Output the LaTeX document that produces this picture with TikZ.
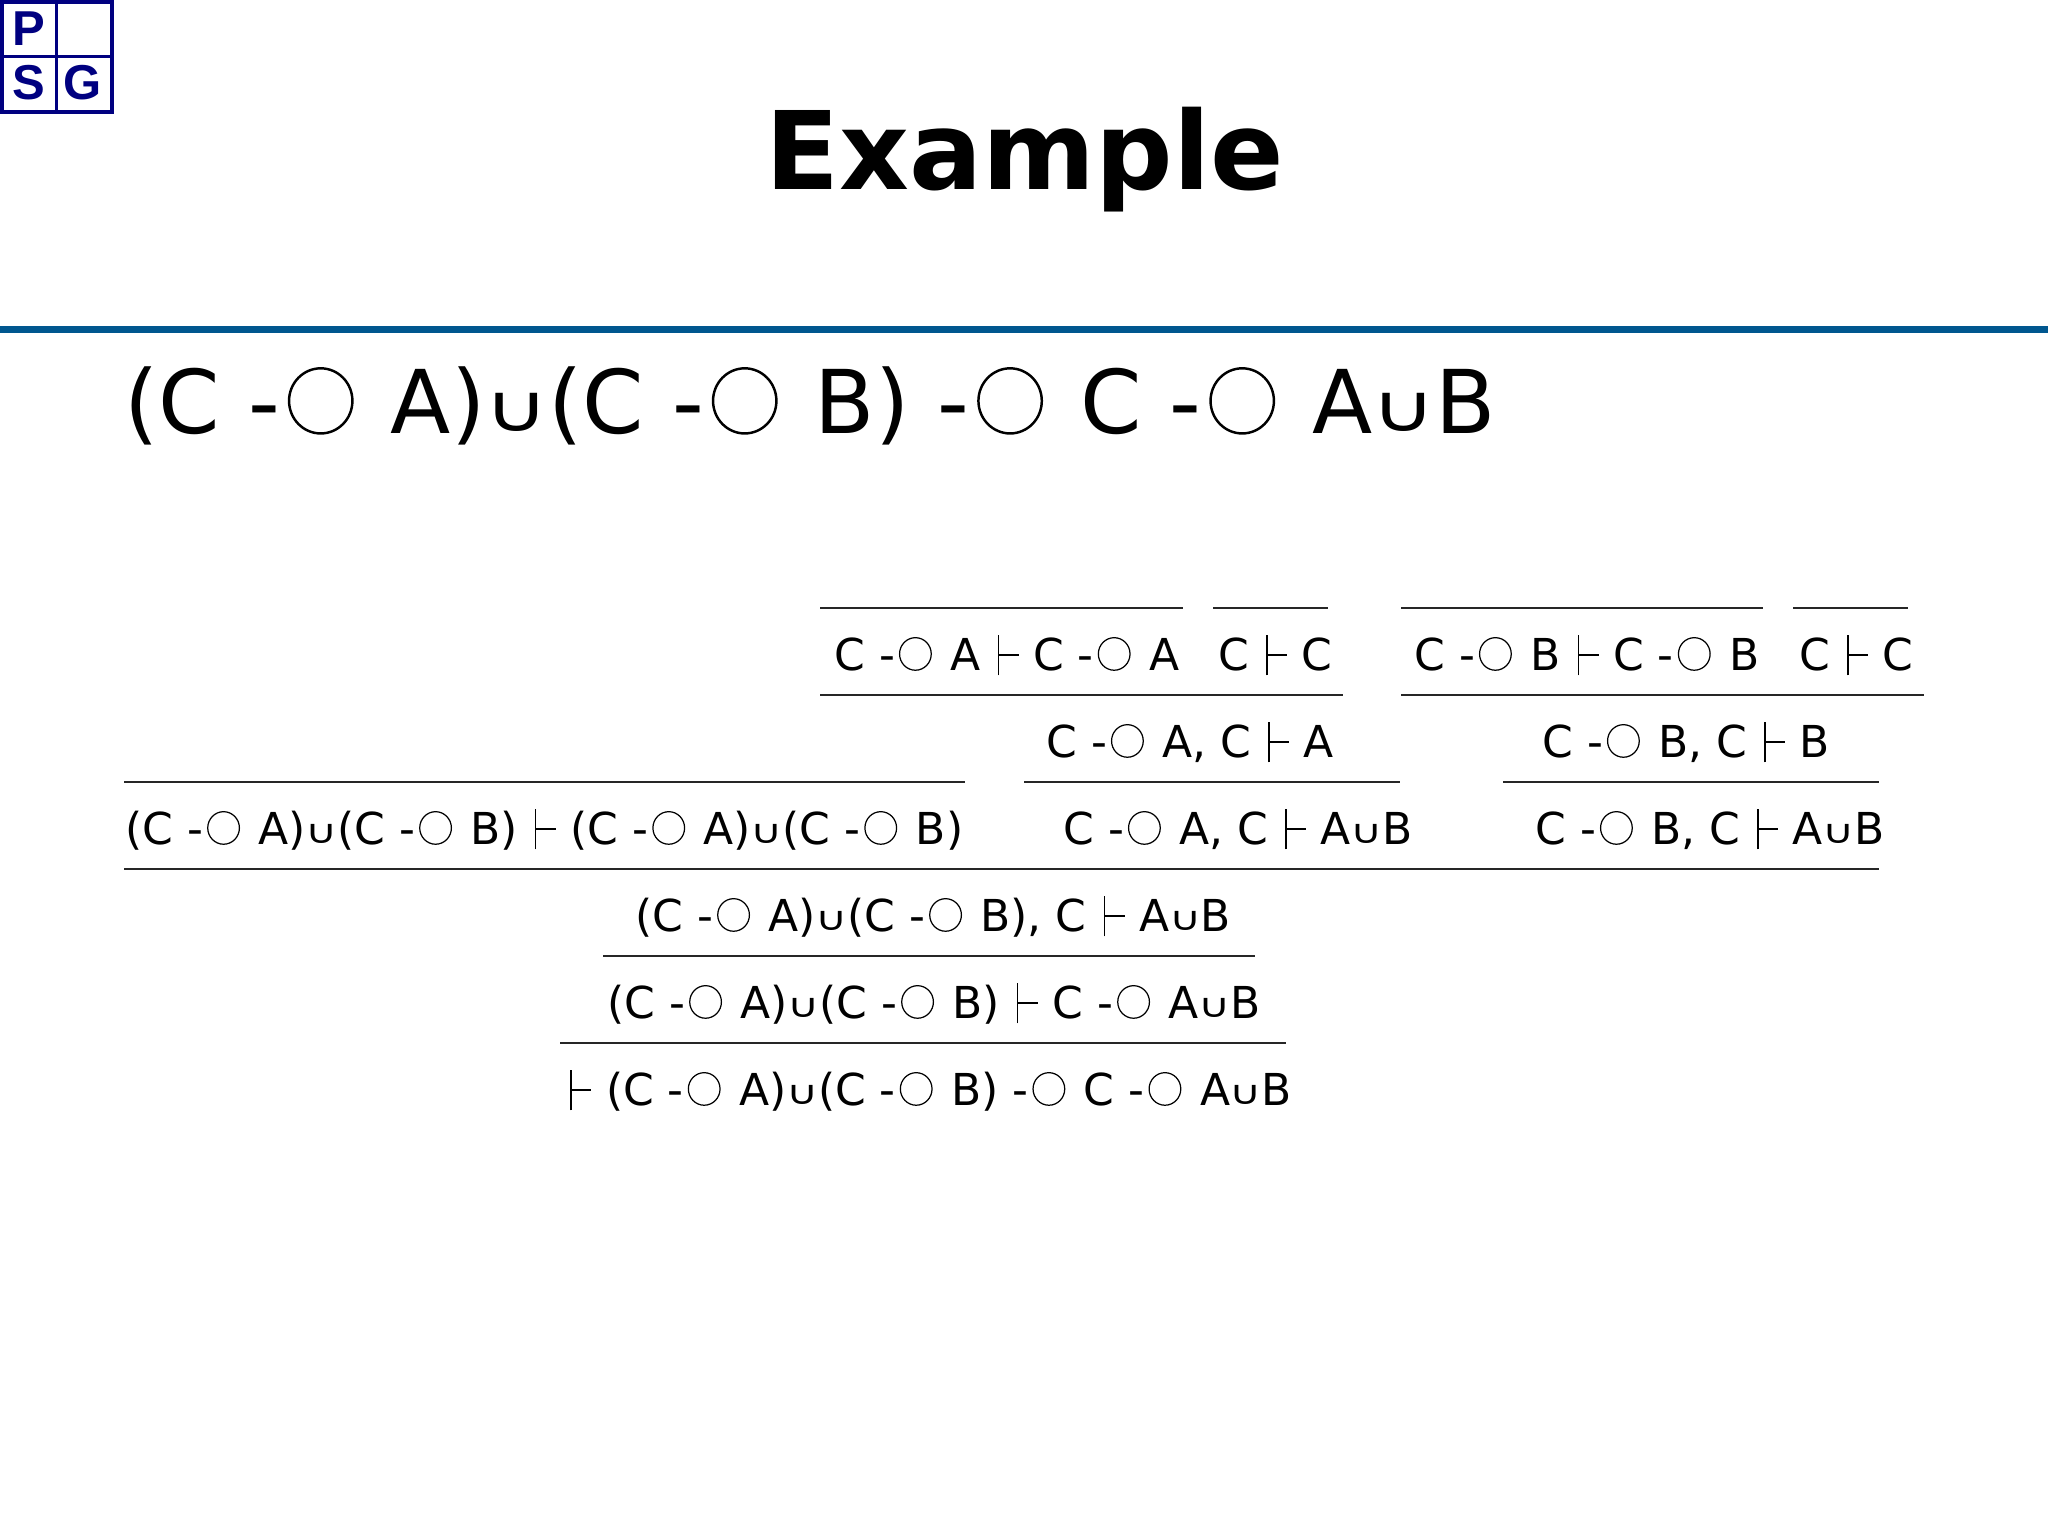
\documentclass[tikz,border=0pt]{standalone}
\usepackage{fontspec}
\setmainfont{DejaVu Sans}
\newfontfamily\logofont{Liberation Sans}
\definecolor{psgblue}{HTML}{000080}
\definecolor{rulecol}{HTML}{00578F}
\newcommand{\lolli}{-\hspace{0.09em}\tikz[baseline=0pt,x=1em,y=1em]{\draw[line width=0.028em] (0.38,0.365) ellipse (0.36 and 0.37);}\hspace{0.105em}}
\newcommand{\unn}{\hspace{-0.008em}\raisebox{0.02em}{\scalebox{1}[0.75]{∪}}\hspace{-0.008em}}
\newcommand{\vd}{\hspace{0.07em}\tikz[baseline=0pt,x=1em,y=1em]{\draw[line width=0.03em] (0,-0.12) -- (0,0.8); \draw[line width=0.03em] (0,0.34) -- (0.46,0.34);}\hspace{0em}}
\tikzset{
    prf/.style={anchor=base west,inner sep=0pt,font=\fontsize{22}{26}\selectfont},
    psg/.style={text=psgblue,inner sep=0pt,font=\fontsize{24.5}{30}\selectfont\logofont\bfseries},
}
\begin{document}
\begin{tikzpicture}[x=0.5pt,y=-0.5pt]
    \useasboundingbox (0,0) rectangle (2048,1536);
    % logo
    \draw[psgblue,line width=2pt] (2,2) rectangle (112,112);
    \draw[psgblue,line width=1.7pt] (56.5,2) -- (56.5,112);
    \draw[psgblue,line width=1.7pt] (2,56.5) -- (112,56.5);
    \node[psg] (logoP) at (29,29) {P};
    \node[psg] (logoS) at (29,83) {S};
    \node[psg] (logoG) at (83,83) {G};
    % title
    \node[inner sep=0pt,font=\fontsize{54.2}{66}\selectfont\bfseries] (title) at (1025,160) {Example};
    \draw[rulecol,line width=3.5pt] (0,329) -- (2048,329);
    \node[anchor=base west,inner sep=0pt,font=\fontsize{44}{52}\selectfont] (goal) at (124,433)
        {(C \lolli{} A)\unn{}(C \lolli{} B) \lolli{} C \lolli{} A\unn{}B};
    % inference lines
    \foreach \y/\a/\b in {608/820/1183, 608/1213/1328, 608/1401/1763, 608/1793/1908,
        695/820/1343, 695/1401/1924, 782/124/965, 782/1024/1400, 782/1503/1879,
        869/124/1879, 956/603/1255, 1043/560/1286}
        \draw[line width=1.1pt,black!85] (\a,\y) -- (\b,\y);
    % sequents
    \node[prf] (axA) at (834,670) {C \lolli{} A \vd{} C \lolli{} A};
    \node[prf] (axC) at (1218,670) {C \vd{} C};
    \node[prf] (axB) at (1414,670) {C \lolli{} B \vd{} C \lolli{} B};
    \node[prf] (axD) at (1799,670) {C \vd{} C};
    \node[prf] (appA) at (1046,757) {C \lolli{} A, C \vd{} A};
    \node[prf] (appB) at (1542,757) {C \lolli{} B, C \vd{} B};
    \node[prf] (id) at (125,844) {(C \lolli{} A)\unn{}(C \lolli{} B) \vd{} (C \lolli{} A)\unn{}(C \lolli{} B)};
    \node[prf] (injA) at (1063,844) {C \lolli{} A, C \vd{} A\unn{}B};
    \node[prf] (injB) at (1535,844) {C \lolli{} B, C \vd{} A\unn{}B};
    \node[prf] (elim) at (635,931) {(C \lolli{} A)\unn{}(C \lolli{} B), C \vd{} A\unn{}B};
    \node[prf] (intro) at (607,1018) {(C \lolli{} A)\unn{}(C \lolli{} B) \vd{} C \lolli{} A\unn{}B};
    \node[prf] (final) at (567,1105) {\vd{} (C \lolli{} A)\unn{}(C \lolli{} B) \lolli{} C \lolli{} A\unn{}B};
\end{tikzpicture}
\end{document}
